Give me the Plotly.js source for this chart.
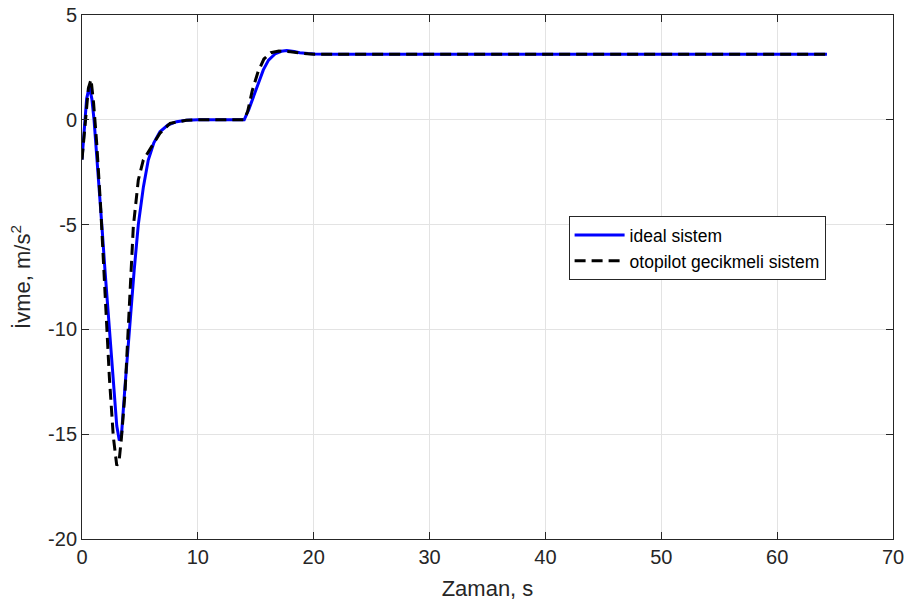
<!DOCTYPE html>
<html>
<head>
<meta charset="utf-8">
<script src="https://cdn.plot.ly/plotly-3.0.1.min.js"></script>
<style>html,body{margin:0;padding:0;background:#fff;}#chart{width:910px;height:608px;}</style>
</head>
<body>
<div id="chart"></div>
<script>
const idealT = [0,0.2,0.4,0.63,0.85,1.04,1.3,1.7,2.0,2.36,2.7,3.0,3.22,3.4,3.7,4.08,4.5,4.86,5.3,5.72,6.2,6.73,7.4,8.17,9,10,14,14.4,14.8,15.2,15.65,16.1,16.66,17.2,17.67,18.3,18.8,19.5,20.1,22,64.3];
const idealA = [-1.9,-0.4,1.0,1.58,1.0,0,-1.8,-4.94,-7.3,-9.95,-12.6,-14.6,-15.3,-15.1,-12.8,-10.0,-7.2,-5.0,-3.2,-1.92,-1.1,-0.57,-0.25,-0.09,-0.02,0,0,0.5,1.1,1.75,2.38,2.85,3.14,3.27,3.30,3.26,3.2,3.16,3.14,3.13,3.13];
const delayT = [0,0.3,0.55,0.78,1.0,1.27,1.61,1.99,2.36,2.7,3.0,3.2,3.4,3.71,4.14,4.43,4.86,5.29,6.01,6.73,7.6,9,10,14,14.3,14.7,15.2,15.7,16.3,17,18,19,20,22,64.3];
const delayA = [-1.9,0,1.5,1.93,0.8,-1.12,-4.15,-8.28,-12.26,-15.1,-16.5,-16.3,-15.2,-13.05,-8.6,-5.1,-2.87,-1.92,-1.28,-0.64,-0.17,-0.02,0,0,0.4,1.4,2.3,2.9,3.2,3.28,3.25,3.17,3.13,3.13,3.13];
const xTicks = [0,10,20,30,40,50,60,70];
const yTicks = [-20,-15,-10,-5,0,5];

const FONT = 'Arial, Liberation Sans, sans-serif';
const axisCommon = {
  showline: true, linecolor: '#262626', linewidth: 1, mirror: 'ticks',
  ticks: 'inside', ticklen: 7, tickcolor: '#262626', tickwidth: 1,
  showgrid: true, gridcolor: '#e3e3e3', gridwidth: 1, zeroline: false,
  tickfont: {family: FONT, size: 20, color: '#262626'}
};

const data = [
  {x: idealT, y: idealA, type: 'scatter', mode: 'lines', name: 'ideal sistem',
   line: {color: '#0000ff', width: 3}},
  {x: delayT, y: delayA, type: 'scatter', mode: 'lines', name: 'otopilot gecikmeli sistem',
   line: {color: '#000000', width: 3, dash: '11px,6px'}}
];

const layout = {
  width: 910, height: 608,
  margin: {l: 82, r: 17, t: 15, b: 69},
  paper_bgcolor: '#fff', plot_bgcolor: '#fff',
  showlegend: true,
  legend: {x: 0.6, y: 0.616, xanchor: 'left', yanchor: 'top',
    bgcolor: '#fff', bordercolor: '#262626', borderwidth: 1,
    font: {family: FONT, size: 17.5, color: '#000'},
    itemwidth: 50, tracegroupgap: 0},
  xaxis: Object.assign({}, axisCommon, {
    range: [0, 70], tickvals: xTicks, ticktext: xTicks.map(String),
    title: {text: 'Zaman, s', font: {family: FONT, size: 22, color: '#262626'}, standoff: 13}
  }),
  yaxis: Object.assign({}, axisCommon, {
    range: [-20, 5], tickvals: yTicks, ticktext: yTicks.map(String),
    title: {text: 'İvme, m/s<sup>2</sup>', font: {family: FONT, size: 22, color: '#262626'}, standoff: 11}
  })
};

Plotly.newPlot('chart', data, layout, {displayModeBar: false, staticPlot: true});
</script>
</body>
</html>
